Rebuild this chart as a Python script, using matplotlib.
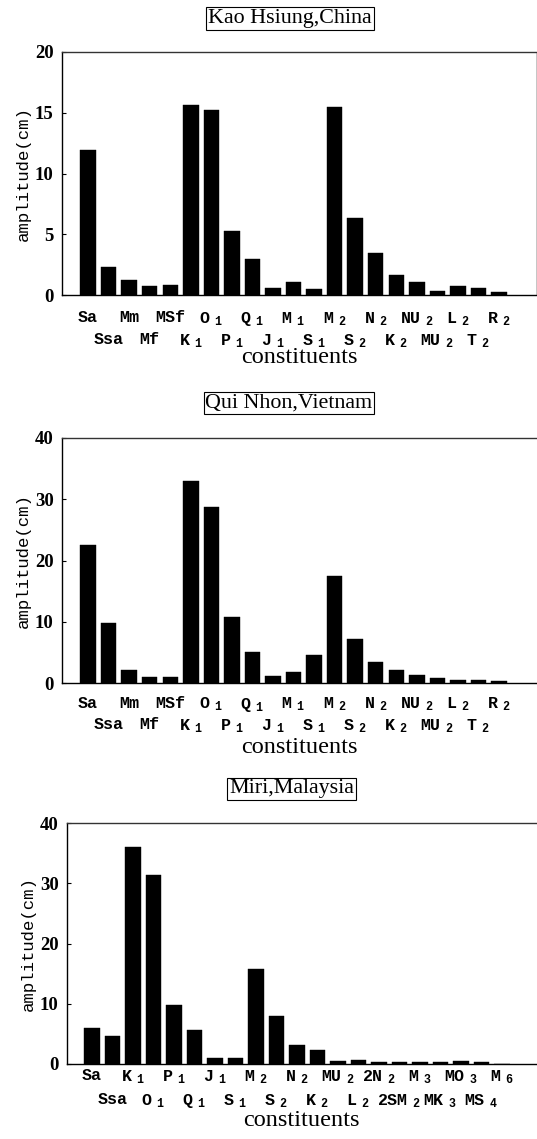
import matplotlib
matplotlib.use("Agg")
import matplotlib.pyplot as plt
import numpy as np

plt.rcParams['mathtext.default'] = 'regular'

def sub(name, d):
    return name + r"$_{\enspace " + d + "}$"

# ---- data ----
labels_kh = ["Sa", "Ssa", "Mm", "Mf", "MSf", sub("K", "1"), sub("O", "1"), sub("P", "1"), sub("Q", "1"),
             sub("J", "1"), sub("M", "1"), sub("S", "1"), sub("M", "2"), sub("S", "2"), sub("N", "2"),
             sub("K", "2"), sub("NU", "2"), sub("MU", "2"), sub("L", "2"), sub("T", "2"), sub("R", "2")]
values_kh = [11.9, 2.3, 1.2, 0.7, 0.8, 15.6, 15.2, 5.3, 3.0, 0.55, 1.07,
             0.47, 15.45, 6.35, 3.47, 1.68, 1.05, 0.35, 0.7, 0.58, 0.25]

labels_qn = labels_kh
values_qn = [22.5, 9.8, 2.05, 0.9, 0.9, 33.0, 28.7, 10.7, 5.0, 1.2, 1.8,
             4.6, 17.5, 7.2, 3.5, 2.2, 1.25, 0.85, 0.45, 0.45, 0.27]

labels_mi = ["Sa", "Ssa", sub("K", "1"), sub("O", "1"), sub("P", "1"), sub("Q", "1"), sub("J", "1"),
             sub("S", "1"), sub("M", "2"), sub("S", "2"), sub("N", "2"), sub("K", "2"), sub("MU", "2"),
             sub("L", "2"), sub("2N", "2"), sub("2SM", "2"), sub("M", "3"), sub("MK", "3"), sub("MO", "3"),
             sub("MS", "4"), sub("M", "6")]
values_mi = [6.05, 4.6, 36.0, 31.3, 9.8, 5.7, 1.0, 1.0, 15.7, 7.9,
             3.2, 2.4, 0.55, 0.65, 0.4, 0.35, 0.25, 0.4, 0.45, 0.3, 0.08]

titles = ["Kao Hsiung,China", "Qui Nhon,Vietnam", "Miri,Malaysia"]
yticks_list = [[0, 5, 10, 15, 20], [0, 10, 20, 30, 40], [0, 10, 20, 30, 40]]

W, H = 537, 1139
fig = plt.figure(figsize=(W / 100, H / 100), dpi=100)

def fx(px):
    return px / W

def fy(py):
    return 1 - py / H

panels = [
    dict(labels=labels_kh, values=values_kh, left=62, right=536, top=52, bottom=295,
         xlim=(-1.27, 21.8), title_x=290, title_y=18.5, pad1=11, pad2=26.5, xl_pad=-1.5, rspine=True),
    dict(labels=labels_qn, values=values_qn, left=62, right=536, top=438, bottom=683,
         xlim=(-1.27, 21.8), title_x=289, title_y=403, pad1=9, pad2=24.5, xl_pad=1.5, rspine=False),
    dict(labels=labels_mi, values=values_mi, left=67, right=536, top=823, bottom=1064,
         xlim=(-1.22, 21.66), title_x=291.5, title_y=789, pad1=3, pad2=20.5, xl_pad=0, rspine=False),
]

tick_font = dict(family="Liberation Mono", weight="bold", size=12)

for i, p in enumerate(panels):
    ax = fig.add_axes([fx(p['left']), fy(p['bottom']), fx(p['right'] - p['left']),
                       (p['bottom'] - p['top']) / H])
    x = np.arange(len(p['values']))
    ax.bar(x, p['values'], width=0.75, color='black', edgecolor='black', linewidth=0.3)
    ax.set_xlim(*p['xlim'])
    yt = yticks_list[i]
    ax.set_ylim(0, yt[-1])
    ax.set_yticks(yt)
    ax.set_yticklabels([str(v) for v in yt], family="Liberation Serif", weight="bold", size=13.5)
    ax.tick_params(axis='y', direction='in', length=3, width=0.8, pad=6)

    even = x[0::2]
    odd = x[1::2]
    ax.set_xticks(even)
    ax.set_xticklabels([p['labels'][j] for j in even], **tick_font)
    ax.set_xticks(odd, minor=True)
    ax.set_xticklabels([p['labels'][j] for j in odd], minor=True, **tick_font)
    ax.tick_params(axis='x', which='major', length=0, pad=p['pad1'])
    ax.tick_params(axis='x', which='minor', length=0, pad=p['pad2'])

    for s in ['left', 'bottom', 'top']:
        ax.spines[s].set_linewidth(1.0)
        ax.spines[s].set_color('black')
    ax.spines['top'].set_color('#333333')
    if p['rspine']:
        ax.spines['right'].set_color('#bbbbbb')
        ax.spines['right'].set_linewidth(0.6)
    else:
        ax.spines['right'].set_visible(False)

    ax.set_xlabel("constituents", family="Liberation Serif", size=17.5, labelpad=p['xl_pad'])
    ax.set_ylabel("amplitude(cm)", family="Liberation Mono", size=12.5, labelpad=3)

    fig.text(fx(p['title_x']), fy(p['title_y']), titles[i], family="Liberation Serif", size=15.8,
             ha='center', va='center',
             bbox=dict(boxstyle='square,pad=0.08', fc='white', ec='black', lw=0.8))

fig.savefig("out.png", dpi=100)
